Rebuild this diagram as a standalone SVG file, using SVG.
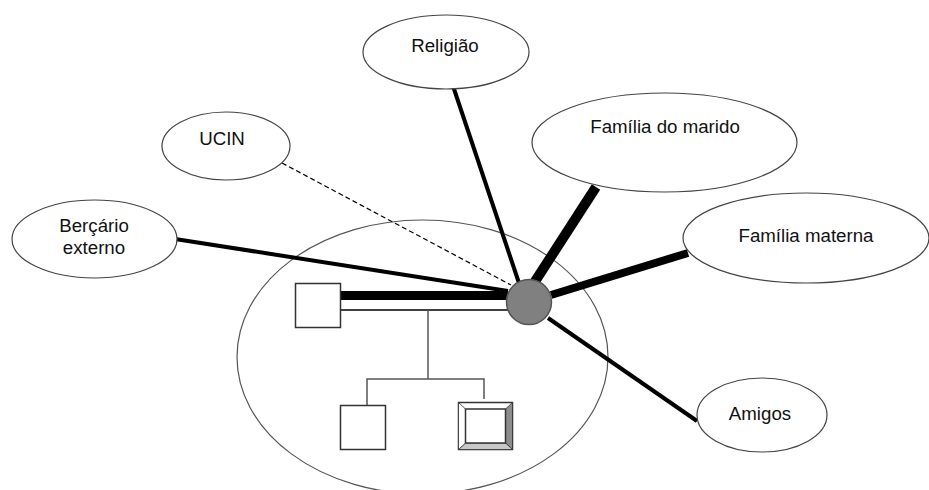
<svg xmlns="http://www.w3.org/2000/svg" width="929" height="490" viewBox="0 0 929 490">
  <style>
    .bubble { fill: #ffffff; stroke: #444444; stroke-width: 1.2; }
    .label { font-family: "Liberation Sans", Arial, sans-serif; font-size: 18.7px; fill: #111111; text-anchor: middle; }
    .tie { stroke: #000000; fill: none; stroke-linecap: butt; }
    .kin { stroke: #555555; stroke-width: 1.5; fill: none; }
    .male { fill: #ffffff; stroke: #333333; stroke-width: 1.5; }
  </style>

  <rect width="929" height="490" fill="#ffffff"/>

  <!-- household boundary -->
  <g id="household">
    <ellipse cx="422.5" cy="357" rx="185.5" ry="137" fill="none" stroke="#555555" stroke-width="1.2"/>
  </g>

  <!-- ties between the mother and her network -->
  <g id="connectors">
    <line class="tie" x1="175" y1="239" x2="508" y2="291" stroke-width="4"/>
    <line class="tie" x1="282" y1="163" x2="511" y2="285" stroke-width="1.2" stroke-dasharray="5,3"/>
    <line class="tie" x1="452" y1="83" x2="519" y2="283" stroke-width="4"/>
    <line class="tie" x1="596" y1="187" x2="534" y2="283" stroke-width="10"/>
    <line class="tie" x1="688" y1="253" x2="551" y2="295" stroke-width="8"/>
    <line class="tie" x1="548" y1="318" x2="697" y2="421" stroke-width="4"/>
    <!-- couple: strong bond and marriage line -->
    <line class="tie" x1="340" y1="295.5" x2="508" y2="295.5" stroke-width="9"/>
    <line class="tie" x1="340" y1="310" x2="508" y2="310" stroke-width="1.5"/>
    <!-- descent lines -->
    <polyline class="kin" points="428,310 428,379"/>
    <polyline class="kin" points="367,405 367,379 484,379 484,399"/>
  </g>

  <g id="religiao">
    <ellipse class="bubble" cx="446" cy="52" rx="83" ry="37"/>
    <text class="label" x="445" y="52">Religião</text>
  </g>

  <g id="ucin">
    <ellipse class="bubble" cx="226" cy="146" rx="64" ry="34"/>
    <text class="label" x="222" y="145">UCIN</text>
  </g>

  <g id="bercario">
    <ellipse class="bubble" cx="94.5" cy="239" rx="82.5" ry="39"/>
    <text class="label" x="94" y="232">Berçário</text>
    <text class="label" x="94" y="254">externo</text>
  </g>

  <g id="familia-marido">
    <ellipse class="bubble" cx="664.5" cy="142.5" rx="132.5" ry="49.5"/>
    <text class="label" x="665" y="133">Família do marido</text>
  </g>

  <g id="familia-materna">
    <ellipse class="bubble" cx="806" cy="238" rx="123" ry="45"/>
    <text class="label" x="806" y="242">Família materna</text>
  </g>

  <g id="amigos">
    <ellipse class="bubble" cx="762" cy="415" rx="65" ry="37"/>
    <text class="label" x="760" y="420">Amigos</text>
  </g>

  <!-- father -->
  <g id="pai">
    <rect class="male" x="295.5" y="283.5" width="45" height="44"/>
  </g>

  <!-- mother -->
  <g id="mae">
    <circle cx="529" cy="302" r="22.5" fill="#808080" stroke="#555555" stroke-width="1.5"/>
  </g>

  <!-- first child -->
  <g id="filho">
    <rect class="male" x="340.5" y="405.5" width="45" height="44"/>
  </g>

  <!-- index child, bevelled square -->
  <g id="bebe">
    <rect x="458.5" y="402.5" width="54" height="47" fill="#ffffff" stroke="#333333" stroke-width="1.5"/>
    <polygon points="505.5,409 512.5,402.5 512.5,449.5 505.5,443" fill="#8c8c8c" stroke="#333333" stroke-width="0.8"/>
    <polygon points="458.5,449.5 465.5,443 505.5,443 512.5,449.5" fill="#c8c8c8" stroke="#333333" stroke-width="0.8"/>
    <polygon points="458.5,402.5 465.5,409 465.5,443 458.5,449.5" fill="#ffffff" stroke="#333333" stroke-width="0.8"/>
    <rect x="465.5" y="409" width="40" height="34" fill="#ffffff" stroke="#333333" stroke-width="1.5"/>
  </g>
</svg>
